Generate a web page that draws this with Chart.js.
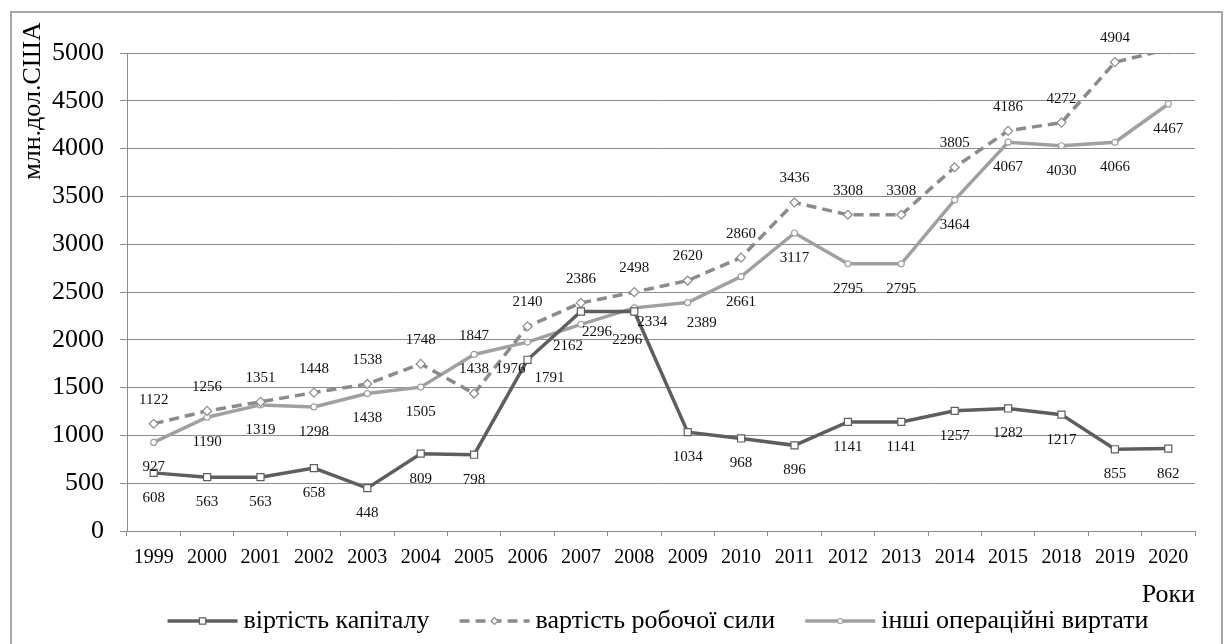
<!DOCTYPE html>
<html>
<head>
<meta charset="utf-8">
<script src="https://cdn.jsdelivr.net/npm/chart.js@4/dist/chart.umd.min.js"></script>
<style>
html,body{margin:0;padding:0;background:#fff;}
#wrap{width:1224px;height:644px;position:relative;}
</style>
</head>
<body>
<div id="wrap"><canvas id="c" width="1224" height="644"></canvas></div>
<script>
// ---- data ----
const years = ['1999','2000','2001','2002','2003','2004','2005','2006','2007','2008','2009','2010','2011','2012','2013','2014','2015','2018','2019','2020'];
const capitalCost = [608,563,563,658,448,809,798,1791,2296,2296,1034,968,896,1141,1141,1257,1282,1217,855,862];
const laborCost   = [1122,1256,1351,1448,1538,1748,1438,2140,2386,2498,2620,2860,3436,3308,3308,3805,4186,4272,4904,5040];
const otherCost   = [927,1190,1319,1298,1438,1505,1847,1976,2162,2334,2389,2661,3117,2795,2795,3464,4067,4030,4066,4467];
const seriesNames = ['вiртiсть капiталу','вартiсть робочої сили','iншi операцiйнi виртати'];
const yTicks = [0,500,1000,1500,2000,2500,3000,3500,4000,4500,5000];
const yTitle = 'млн.дол.США';
const xTitle = 'Роки';

// ---- label placement (style only) ----
const labelDefaults = [[0,25],[0,-24],[0,25]];
const labelShifts = [
  {7:[22,18], 8:[16,21], 9:[-7,29]},
  {},
  {6:[0,-18], 7:[-17,27], 8:[-13,22], 9:[18,14], 10:[14,20]}
];

const SERIF = '"Liberation Serif", "Times New Roman", serif';
const c1 = '#5e5e5e', c2 = '#8b8b8b', c3 = '#a0a0a0';

const dataLabels = {
  id:'dataLabels',
  afterDatasetsDraw(chart){
    const ctx = chart.ctx;
    const yMax = chart.scales.y.max;
    ctx.save();
    ctx.font = '15px ' + SERIF;
    ctx.fillStyle = '#111';
    ctx.textAlign = 'center';
    ctx.textBaseline = 'middle';
    chart.data.datasets.forEach((ds, di) => {
      const meta = chart.getDatasetMeta(di);
      meta.data.forEach((pt, i) => {
        const v = ds.data[i];
        if (v > yMax) return;
        const s = labelShifts[di][i] || labelDefaults[di];
        ctx.fillText(String(v), pt.x + s[0], pt.y + s[1]);
      });
    });
    ctx.restore();
  }
};

const decor = {
  id:'decor',
  afterDraw(chart){
    const ctx = chart.ctx;
    const ca = chart.chartArea;
    ctx.save();
    // outer frame
    ctx.strokeStyle = '#a6a6a6';
    ctx.lineWidth = 2;
    ctx.strokeRect(11, 12, 1211, 645);
    // y title
    ctx.save();
    ctx.translate(33, ca.top + 48);
    ctx.rotate(-Math.PI/2);
    ctx.font = '26px ' + SERIF;
    ctx.fillStyle = '#000';
    ctx.textAlign = 'center';
    ctx.textBaseline = 'middle';
    ctx.fillText(yTitle, 0, 0);
    ctx.restore();
    // legend
    const legendFont = '26px ' + SERIF;
    ctx.font = legendFont;
    const sample = 70, gapText = 6, gapItem = 30;
    const widths = seriesNames.map(n => ctx.measureText(n).width);
    const total = widths.reduce((a,b)=>a+b,0) + 3*(sample+gapText) + 2*gapItem;
    let x = (ca.left + ca.right)/2 - total/2 - 3;
    const y = 621;
    chart.data.datasets.forEach((ds, di) => {
      ctx.save();
      ctx.strokeStyle = ds.borderColor;
      ctx.lineWidth = ds.borderWidth;
      ctx.setLineDash(ds.borderDash || []);
      ctx.beginPath();
      ctx.moveTo(x, y); ctx.lineTo(x + sample, y);
      ctx.stroke();
      ctx.setLineDash([]);
      ctx.fillStyle = '#fff';
      ctx.strokeStyle = ds.borderColor;
      ctx.lineWidth = 1.2;
      Chart.helpers.drawPoint(ctx, {
        pointStyle: ds.pointStyle,
        radius: di === 0 ? 4.5 : (di === 1 ? 3.5 : 2.5),
        borderWidth: 1.2
      }, x + sample/2, y);
      ctx.restore();
      ctx.font = legendFont;
      ctx.fillStyle = '#000';
      ctx.textAlign = 'left';
      ctx.textBaseline = 'middle';
      ctx.fillText(seriesNames[di], x + sample + gapText, y);
      x += sample + gapText + widths[di] + gapItem;
    });
    ctx.restore();
  }
};

new Chart(document.getElementById('c'), {
  type:'line',
  data:{
    labels: years,
    datasets:[
      {label:seriesNames[0], data:capitalCost, borderColor:c1, borderWidth:3.5, pointStyle:'rect', pointRadius:5,
       pointBackgroundColor:'#fff', pointBorderColor:c1, pointBorderWidth:1.2, tension:0, clip:0},
      {label:seriesNames[1], data:laborCost, borderColor:c2, borderWidth:3.5, borderDash:[10,6], pointStyle:'rectRot', pointRadius:4.5,
       pointBackgroundColor:'#fff', pointBorderColor:c2, pointBorderWidth:1.2, tension:0, clip:0},
      {label:seriesNames[2], data:otherCost, borderColor:c3, borderWidth:3.5, pointStyle:'circle', pointRadius:3,
       pointBackgroundColor:'#fff', pointBorderColor:c3, pointBorderWidth:1.2, tension:0, clip:0}
    ]
  },
  options:{
    responsive:false,
    animation:false,
    events:[],
    layout:{padding:{left:0, right:29, top:53, bottom:0}},
    plugins:{legend:{display:false}, tooltip:{enabled:false}},
    scales:{
      x:{
        offset:true,
        grid:{display:true, drawOnChartArea:false, drawTicks:true, tickLength:5, color:'#8c8c8c', offset:true},
        border:{display:true, color:'#8c8c8c', width:1},
        ticks:{font:{family:SERIF, size:20}, color:'#000', padding:10, maxRotation:0, autoSkip:false},
        title:{display:true, text:xTitle, align:'end', font:{family:SERIF, size:26}, color:'#000', padding:{top:0,bottom:33}},
        afterFit(scale){ scale.height = 113; }
      },
      y:{
        min:0, max:5000,
        afterBuildTicks(scale){ scale.ticks = yTicks.map(v => ({value:v})); },
        grid:{color:'#8c8c8c', lineWidth:1, tickLength:7},
        border:{display:true, color:'#8c8c8c', width:1},
        ticks:{font:{family:SERIF, size:26}, color:'#000', padding:16, callback:(v) => String(v)},
        afterFit(scale){ scale.width = 127; }
      }
    }
  },
  plugins:[dataLabels, decor]
});
</script>
</body>
</html>
